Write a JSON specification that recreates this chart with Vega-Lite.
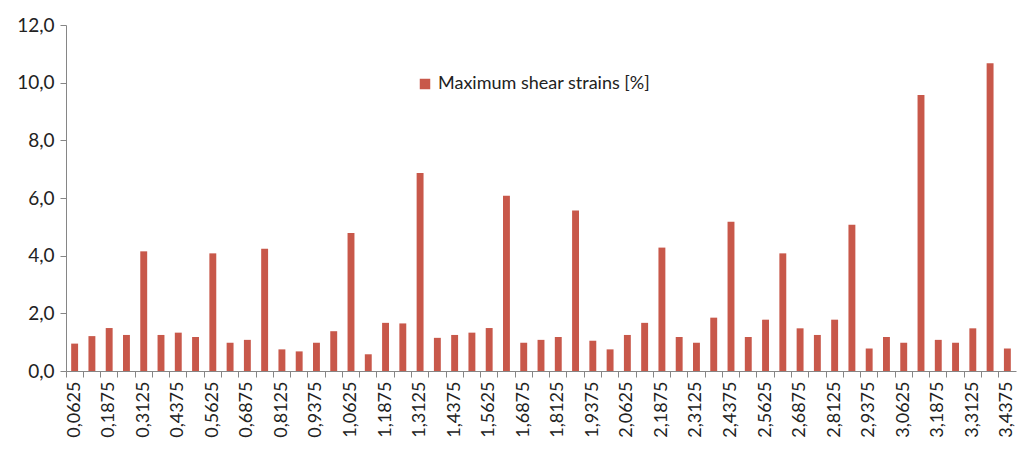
{
  "$schema": "https://vega.github.io/schema/vega-lite/v6.json",
  "width": 950,
  "height": 346,
  "autosize": {"type": "none"},
  "padding": {"left": 66, "top": 25, "right": 1, "bottom": 90},
  "background": "white",
  "config": {
    "view": {"stroke": null},
    "font": "Lato",
    "axis": {"domainColor": "#868686", "tickColor": "#868686", "labelColor": "#222", "labelFont": "Lato", "grid": false, "title": null}
  },
  "data": {
    "values": [
      {"x": 0.0625, "v": 0.95, "s": "Maximum shear strains [%]"},
      {"x": 0.125, "v": 1.21, "s": "Maximum shear strains [%]"},
      {"x": 0.1875, "v": 1.49, "s": "Maximum shear strains [%]"},
      {"x": 0.25, "v": 1.25, "s": "Maximum shear strains [%]"},
      {"x": 0.3125, "v": 4.15, "s": "Maximum shear strains [%]"},
      {"x": 0.375, "v": 1.25, "s": "Maximum shear strains [%]"},
      {"x": 0.4375, "v": 1.33, "s": "Maximum shear strains [%]"},
      {"x": 0.5, "v": 1.18, "s": "Maximum shear strains [%]"},
      {"x": 0.5625, "v": 4.08, "s": "Maximum shear strains [%]"},
      {"x": 0.625, "v": 0.98, "s": "Maximum shear strains [%]"},
      {"x": 0.6875, "v": 1.08, "s": "Maximum shear strains [%]"},
      {"x": 0.75, "v": 4.24, "s": "Maximum shear strains [%]"},
      {"x": 0.8125, "v": 0.75, "s": "Maximum shear strains [%]"},
      {"x": 0.875, "v": 0.68, "s": "Maximum shear strains [%]"},
      {"x": 0.9375, "v": 0.98, "s": "Maximum shear strains [%]"},
      {"x": 1.0, "v": 1.38, "s": "Maximum shear strains [%]"},
      {"x": 1.0625, "v": 4.79, "s": "Maximum shear strains [%]"},
      {"x": 1.125, "v": 0.58, "s": "Maximum shear strains [%]"},
      {"x": 1.1875, "v": 1.67, "s": "Maximum shear strains [%]"},
      {"x": 1.25, "v": 1.65, "s": "Maximum shear strains [%]"},
      {"x": 1.3125, "v": 6.87, "s": "Maximum shear strains [%]"},
      {"x": 1.375, "v": 1.15, "s": "Maximum shear strains [%]"},
      {"x": 1.4375, "v": 1.25, "s": "Maximum shear strains [%]"},
      {"x": 1.5, "v": 1.33, "s": "Maximum shear strains [%]"},
      {"x": 1.5625, "v": 1.49, "s": "Maximum shear strains [%]"},
      {"x": 1.625, "v": 6.08, "s": "Maximum shear strains [%]"},
      {"x": 1.6875, "v": 0.98, "s": "Maximum shear strains [%]"},
      {"x": 1.75, "v": 1.08, "s": "Maximum shear strains [%]"},
      {"x": 1.8125, "v": 1.18, "s": "Maximum shear strains [%]"},
      {"x": 1.875, "v": 5.57, "s": "Maximum shear strains [%]"},
      {"x": 1.9375, "v": 1.05, "s": "Maximum shear strains [%]"},
      {"x": 2.0, "v": 0.75, "s": "Maximum shear strains [%]"},
      {"x": 2.0625, "v": 1.25, "s": "Maximum shear strains [%]"},
      {"x": 2.125, "v": 1.67, "s": "Maximum shear strains [%]"},
      {"x": 2.1875, "v": 4.28, "s": "Maximum shear strains [%]"},
      {"x": 2.25, "v": 1.18, "s": "Maximum shear strains [%]"},
      {"x": 2.3125, "v": 0.98, "s": "Maximum shear strains [%]"},
      {"x": 2.375, "v": 1.85, "s": "Maximum shear strains [%]"},
      {"x": 2.4375, "v": 5.18, "s": "Maximum shear strains [%]"},
      {"x": 2.5, "v": 1.18, "s": "Maximum shear strains [%]"},
      {"x": 2.5625, "v": 1.78, "s": "Maximum shear strains [%]"},
      {"x": 2.625, "v": 4.08, "s": "Maximum shear strains [%]"},
      {"x": 2.6875, "v": 1.48, "s": "Maximum shear strains [%]"},
      {"x": 2.75, "v": 1.25, "s": "Maximum shear strains [%]"},
      {"x": 2.8125, "v": 1.78, "s": "Maximum shear strains [%]"},
      {"x": 2.875, "v": 5.07, "s": "Maximum shear strains [%]"},
      {"x": 2.9375, "v": 0.78, "s": "Maximum shear strains [%]"},
      {"x": 3.0, "v": 1.18, "s": "Maximum shear strains [%]"},
      {"x": 3.0625, "v": 0.98, "s": "Maximum shear strains [%]"},
      {"x": 3.125, "v": 9.57, "s": "Maximum shear strains [%]"},
      {"x": 3.1875, "v": 1.08, "s": "Maximum shear strains [%]"},
      {"x": 3.25, "v": 0.98, "s": "Maximum shear strains [%]"},
      {"x": 3.3125, "v": 1.48, "s": "Maximum shear strains [%]"},
      {"x": 3.375, "v": 10.67, "s": "Maximum shear strains [%]"},
      {"x": 3.4375, "v": 0.78, "s": "Maximum shear strains [%]"}
    ]
  },
  "layer": [
    {
      "mark": {"type": "bar", "width": {"band": 0.4}},
      "encoding": {
        "x": {
          "field": "x", "type": "ordinal", "sort": "ascending",
          "scale": {"paddingInner": 0, "paddingOuter": 0},
          "axis": {
            "orient": "bottom", "ticks": false, "labelAngle": -90, "labelAlign": "right", "labelBaseline": "middle",
            "labelPadding": 10, "labelFontSize": 18, "labelOverlap": false,
            "labelExpr": "(datum.value*16) % 2 == 1 ? replace(format(datum.value, '.4f'), '.', ',') : ''"
          }
        },
        "y": {
          "field": "v", "type": "quantitative",
          "scale": {"domain": [0, 12], "nice": false},
          "axis": {
            "values": [0, 2, 4, 6, 8, 10, 12], "tickSize": 6, "labelFontSize": 19, "labelPadding": 6,
            "labelExpr": "replace(format(datum.value, '.1f'), '.', ',')"
          }
        },
        "color": {
          "field": "s", "type": "nominal",
          "scale": {"range": ["#C8584A"]},
          "legend": {
            "title": null, "orient": "none", "legendX": 350, "legendY": 50,
            "symbolType": "square", "symbolSize": 110, "symbolStrokeWidth": 0, "labelLimit": 400,
            "labelFontSize": 18, "labelColor": "#222", "labelFont": "Lato"
          }
        }
      }
    },
    {
      "mark": {"type": "bar", "opacity": 0, "width": {"band": 0.4}},
      "encoding": {
        "x": {
          "field": "x", "type": "ordinal", "sort": "ascending",
          "axis": {"orient": "bottom", "labels": false, "domain": false, "ticks": true, "tickSize": 6, "bandPosition": 0}
        },
        "y": {"field": "v", "type": "quantitative"}
      }
    }
  ],
  "resolve": {"axis": {"x": "independent"}}
}
